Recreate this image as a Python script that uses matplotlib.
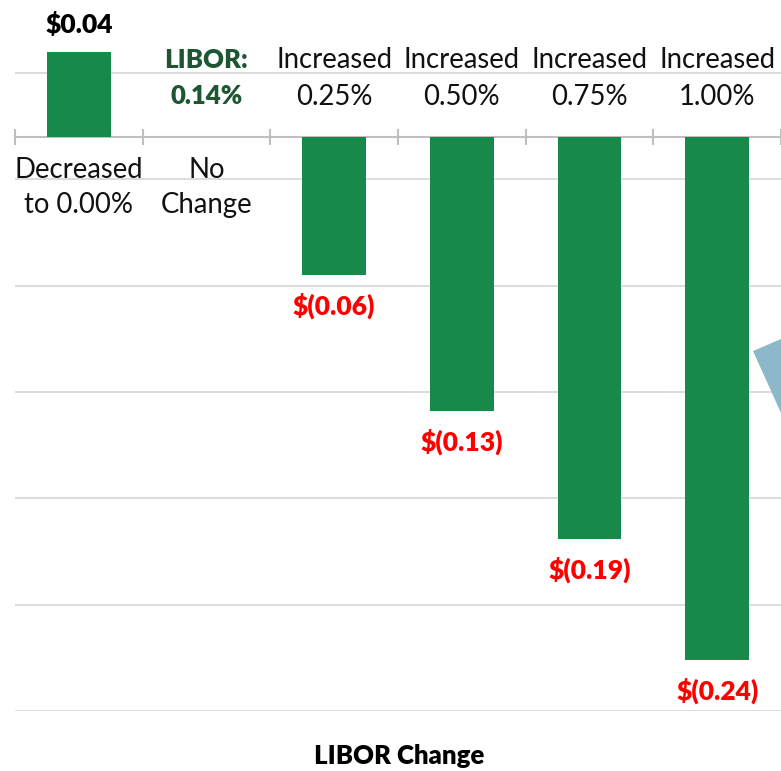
import numpy as np
import matplotlib.pyplot as plt
from matplotlib.patches import Polygon

# --- data ---
categories = ['Decreased\nto 0.00%', 'No\nChange', 'Increased\n0.25%',
              'Increased\n0.50%', 'Increased\n0.75%', 'Increased\n1.00%']
values = [0.040, 0.0, -0.065, -0.129, -0.189, -0.246]
value_labels = ['$0.04', '', '$(0.06)', '$(0.13)', '$(0.19)', '$(0.24)']
libor_label = 'LIBOR:\n0.14%'
grid_values = [0.03, -0.02, -0.07, -0.12, -0.17, -0.22, -0.27]

plt.rcParams['font.family'] = ['Lato', 'DejaVu Sans']

fig = plt.figure(figsize=(7.81, 7.71), dpi=100)
ax = fig.add_axes([15 / 781, 60 / 771, 1 - 15 / 781, 711 / 771])

x = np.arange(len(categories))
bar_color = '#178A49'
ax.bar(x, values, width=0.5, color=bar_color, zorder=3)

ax.set_xlim(-0.5, 5.484)
ax.set_ylim(-0.27, 0.0644)

# gridlines
for g in grid_values:
    ax.axhline(g, color='#D9D9D9', lw=1.3, zorder=1)

# category axis at zero with ticks between categories
for s in ['left', 'right', 'top']:
    ax.spines[s].set_visible(False)
ax.spines['bottom'].set_position(('data', 0))
ax.spines['bottom'].set_color('#BFBFBF')
ax.spines['bottom'].set_linewidth(1.5)
ax.spines['bottom'].set_zorder(2)
ax.set_xticks(np.arange(-0.5, 6, 1.0))
ax.set_xticklabels([])
ax.tick_params(axis='x', direction='inout', length=12, width=1.5, color='#BFBFBF')
ax.set_yticks([])

# category labels: above axis for negative bars, below for the rest
for i, (cat, v) in enumerate(zip(categories, values)):
    if v < 0:
        ax.annotate(cat, xy=(i, 0), xytext=(0, 42.2), textcoords='offset points',
                    ha='center', va='center', fontsize=19.8, linespacing=1.5,
                    color='#111111')
    else:
        ax.annotate(cat, xy=(i, 0), xytext=(0, -36.4), textcoords='offset points',
                    ha='center', va='center', fontsize=19.8, linespacing=1.45,
                    color='#111111')

# LIBOR callout over the "No Change" slot
ax.annotate(libor_label, xy=(1, 0), xytext=(0, 42.5), textcoords='offset points',
            ha='center', va='center', fontsize=18.5, fontweight='heavy',
            linespacing=1.62, color='#1E5634')

# value labels
for i, (v, lab) in enumerate(zip(values, value_labels)):
    if not lab:
        continue
    if v >= 0:
        ax.annotate(lab, xy=(i, v), xytext=(0, 20), textcoords='offset points',
                    ha='center', va='center', fontsize=19, fontweight='heavy',
                    color='black')
    else:
        ax.annotate(lab, xy=(i, v), xytext=(0, -22), textcoords='offset points',
                    ha='center', va='center', fontsize=19, fontweight='heavy',
                    color='#FF0000')

fig.text(399 / 781, 1 - 756 / 771, 'LIBOR Change', ha='center', va='center',
         fontsize=18.5, fontweight='heavy', color='black')

# partial blue arrow shape at the right edge
arrow = Polygon([(753 / 781, 1 - 351 / 771), (1.0, 1 - 339 / 771), (1.0, 1 - 413 / 771)],
                closed=True, transform=fig.transFigure, facecolor='#8DB8C9',
                edgecolor='none', zorder=5)
fig.patches.append(arrow)

fig.savefig('out.png', dpi=100)
